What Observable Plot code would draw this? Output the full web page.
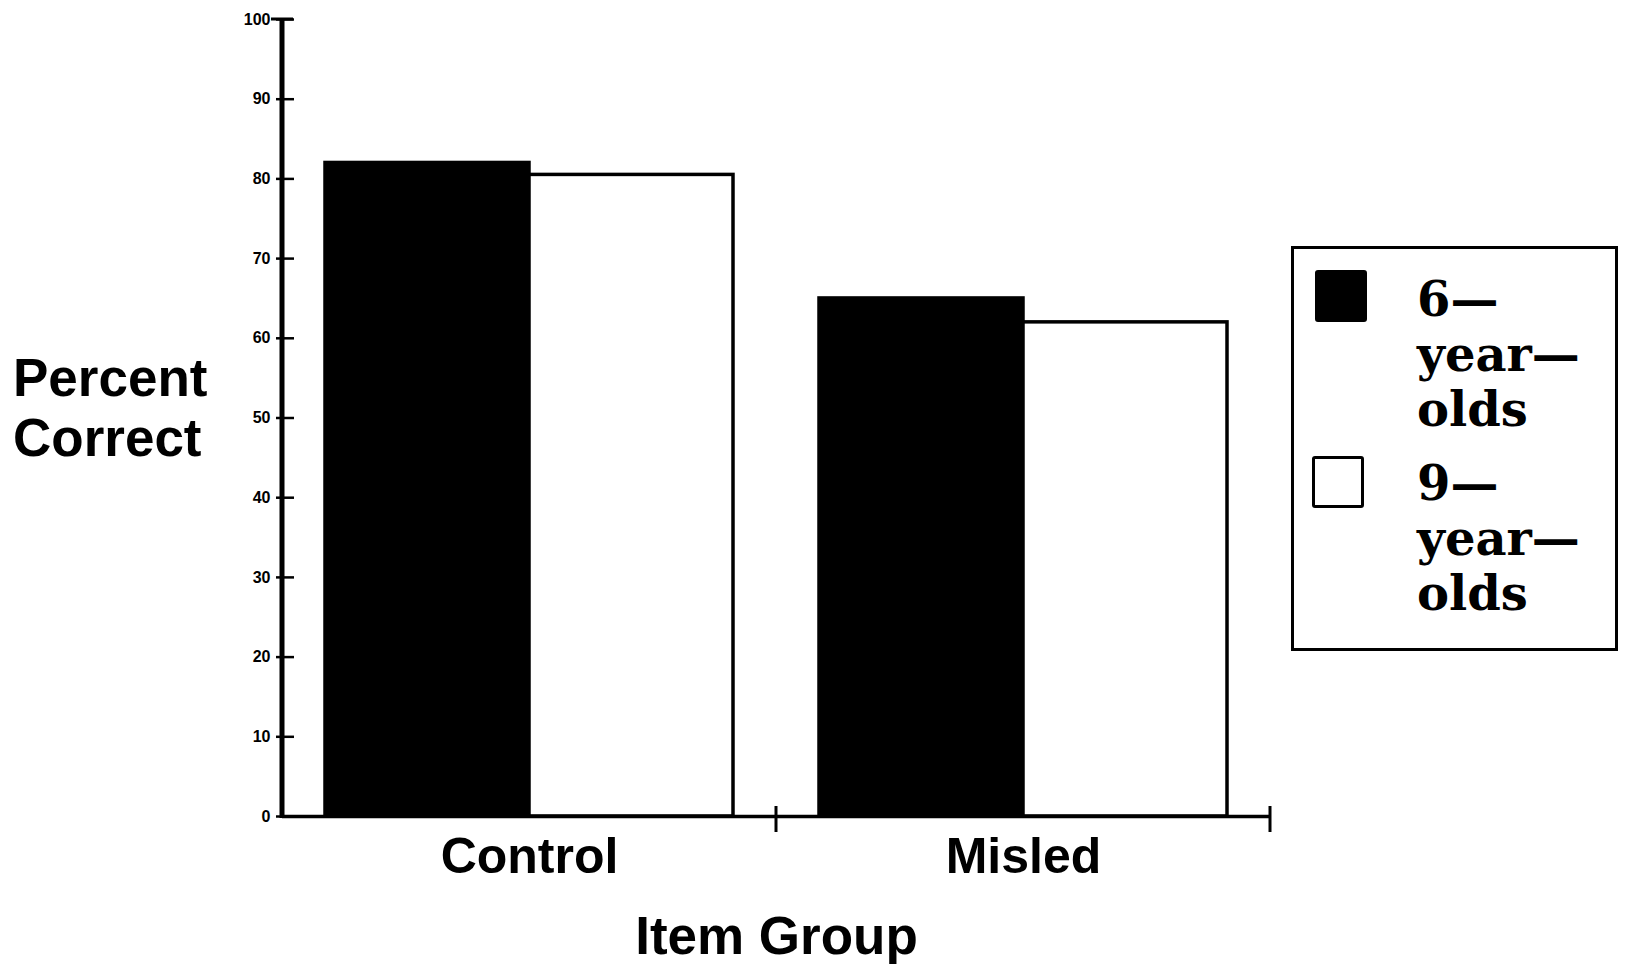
<!DOCTYPE html>
<html><head><meta charset="utf-8">
<script src="https://cdn.jsdelivr.net/npm/d3@7"></script>
<script src="https://cdn.jsdelivr.net/npm/@observablehq/plot@0.6"></script>
<style>
body{margin:0;background:#fff;}
#wrap{position:relative;width:1626px;height:964px;overflow:hidden;}
#wrap svg{position:absolute;left:0;top:0;}
#ylab{position:absolute;left:13px;top:348px;font:bold 53px "Liberation Sans",Arial,sans-serif;line-height:60px;color:#000;}
#legend{position:absolute;left:1291px;top:246px;width:327px;height:405px;border:3px solid #000;box-sizing:border-box;}
.sw{position:absolute;width:52px;height:52px;border:3px solid #000;border-radius:3px;box-sizing:border-box;}
.lt{position:absolute;font:bold 48px "DejaVu Serif",serif;line-height:55px;color:#000;white-space:nowrap;}
</style></head><body><div id="wrap"></div>
<script>
const groups = ["Control", "Misled"];
const ages = ["6-year-olds", "9-year-olds"];
const ageColors = ["#000000", "#ffffff"];
const controlValues = [82, 80.5];
const misledValues = [65, 62];
const yTicks = [0, 10, 20, 30, 40, 50, 60, 70, 80, 90, 100];
const yLabel = ["Percent", "Correct"];
const xLabel = "Item Group";

const data = [];
groups.forEach((g, gi) => {
  const vals = gi === 0 ? controlValues : misledValues;
  ages.forEach((a, ai) => data.push({group: g, age: a, value: vals[ai]}));
});

const plot = Plot.plot({
  width: 1280, height: 964,
  marginLeft: 281, marginRight: 10, marginTop: 19, marginBottom: 148,
  style: {background: "transparent", color: "#000", fontFamily: "'Liberation Sans', Arial, sans-serif"},
  y: {domain: [0, 100]},
  x: {domain: ages, paddingInner: 0, paddingOuter: 0.21, axis: null},
  fx: {domain: groups, padding: 0},
  color: {domain: ages, range: ageColors},
  marks: [
    Plot.barY(data, {fx: "group", x: "age", y: "value", fill: "age", stroke: "#000", strokeWidth: 3.5}),
    Plot.ruleY([0], {strokeWidth: 3.5}),
    Plot.axisY({ticks: yTicks, tickSize: 0, tickPadding: 12, fontSize: 16, fontWeight: "bold", label: null, style: {letterSpacing: "1.5px"}}),
    Plot.axisY({ticks: yTicks, tickSize: 18, dx: 12, strokeWidth: 2.5, tickFormat: () => "", label: null}),
    Plot.axisFx({anchor: "bottom", tickSize: 0, tickPadding: 21, fontSize: 50, fontWeight: "bold", label: null}),
    Plot.axisFx({anchor: "bottom", tickSize: 0, tickFormat: () => "", fontSize: 53, fontWeight: "bold", label: xLabel, labelAnchor: "center", labelOffset: 137})
  ]
});

const wrap = document.getElementById("wrap");
wrap.appendChild(plot);
const svgEl = plot.tagName.toLowerCase() === "svg" ? plot : plot.querySelector("svg");
const svg = d3.select(svgEl);
const fx = plot.scale("fx"), y = plot.scale("y");
const left = fx.apply(groups[0]);
svg.append("line").attr("x1", left).attr("x2", left)
  .attr("y1", y.apply(100)).attr("y2", y.apply(0) + 2)
  .attr("stroke", "#000").attr("stroke-width", 5);
svg.append("line").attr("x1", left - 11).attr("x2", left + 11)
  .attr("y1", y.apply(100)).attr("y2", y.apply(100))
  .attr("stroke", "#000").attr("stroke-width", 3);
groups.forEach(g => {
  const xr = fx.apply(g) + fx.bandwidth;
  svg.append("line").attr("x1", xr).attr("x2", xr)
    .attr("y1", y.apply(0) - 10).attr("y2", y.apply(0) + 16)
    .attr("stroke", "#000").attr("stroke-width", 3);
});

const yl = document.createElement("div");
yl.id = "ylab";
yl.innerHTML = yLabel.join("<br>");
wrap.appendChild(yl);

const leg = document.createElement("div");
leg.id = "legend";
wrap.appendChild(leg);
const swPos = [[21, 21], [18, 207]];
const txtTop = [23, 207];
ages.forEach((a, i) => {
  const sw = document.createElement("div");
  sw.className = "sw";
  sw.style.left = swPos[i][0] + "px"; sw.style.top = swPos[i][1] + "px";
  sw.style.background = ageColors[i];
  leg.appendChild(sw);
  const t = document.createElement("div");
  t.className = "lt";
  t.style.left = "123px"; t.style.top = txtTop[i] + "px";
  t.innerHTML = a.split("-").join("—<br>");
  leg.appendChild(t);
});
</script></body></html>
